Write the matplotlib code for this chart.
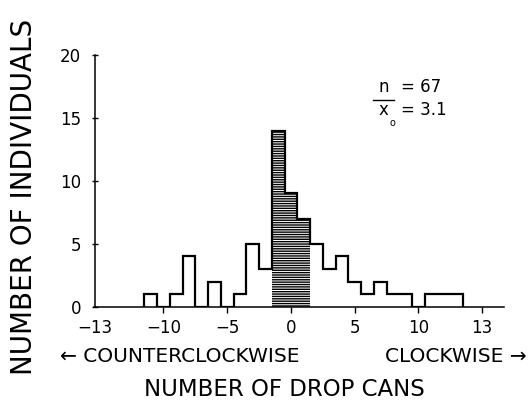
import matplotlib
matplotlib.use("Agg")
import matplotlib.pyplot as plt
import numpy as np

# ---- data ----
bin_centers = list(range(-11, 14))
counts = [1, 0, 1, 4, 0, 2, 0, 1, 5, 3,      # -11 .. -2
          14, 9, 7,                          # -1 .. 1 (shaded)
          5, 3, 4, 2, 1, 2, 1, 1, 0, 1, 1, 1]  # 2 .. 13
shaded_centers = [-1, 0, 1]
shaded_counts = [14, 9, 7]
xtick_pos = [-15.41, -10, -5, 0, 5, 10, 15]
xtick_labels = ["\u221213", "\u221210", "\u22125", "0", "5", "10", "13"]
ytick_pos = [0, 5, 10, 15, 20]
ytick_labels = ["0", "5", "10", "15", "20"]

plt.rcParams['font.family'] = ['DejaVu Sans']
plt.rcParams['hatch.linewidth'] = 1.0
plt.rcParams['hatch.color'] = 'black'

W, H = 531, 409
fig = plt.figure(figsize=(W / 100, H / 100), dpi=100)
ax = fig.add_axes([94.5 / W, 1 - 306.7 / H, (504 - 94.5) / W, (306.7 - 55) / H])

edges = np.arange(bin_centers[0] - 0.5, bin_centers[-1] + 1.0, 1.0)

ax.bar(shaded_centers, shaded_counts, width=1.0, facecolor='white',
       edgecolor='black', hatch='-------', linewidth=0, zorder=2)
ax.stairs(counts, edges, baseline=0, fill=False, color='black',
          linewidth=1.6, zorder=3)

ax.set_xlim(-15.41, 16.71)
ax.set_ylim(0, 20)

for s in ['top', 'right']:
    ax.spines[s].set_visible(False)
for s in ['left', 'bottom']:
    ax.spines[s].set_linewidth(1.1)

ax.set_xticks(xtick_pos)
ax.set_xticklabels(xtick_labels, fontsize=12)
ax.set_yticks(ytick_pos)
ax.set_yticklabels(ytick_labels, fontsize=12)
ax.tick_params(axis='x', direction='out', length=4.5, width=1.0, pad=4)
ax.tick_params(axis='y', direction='inout', length=5, width=1.0, pad=7)
ax.xaxis.get_major_ticks()[0].tick1line.set_visible(False)

# annotation
fig.text(378 / W, 1 - 92 / H, "n", fontsize=12, ha='left', va='baseline')
fig.text(401 / W, 1 - 92 / H, "= 67", fontsize=12, ha='left', va='baseline')
fig.text(379 / W, 1 - 115 / H, "x", fontsize=12, ha='left', va='baseline')
fig.text(389 / W, 1 - 126 / H, "o", fontsize=7, ha='left', va='baseline')
fig.text(401 / W, 1 - 115 / H, "= 3.1", fontsize=12, ha='left', va='baseline')
fig.add_artist(plt.Line2D([373 / W, 394 / W], [1 - 100 / H, 1 - 100 / H],
                          color='black', linewidth=1.0))

# axis titles
fig.text(24 / W, 1 - 197 / H, "NUMBER OF INDIVIDUALS", fontsize=20,
         rotation=90, ha='center', va='center')
fig.text(284 / W, 1 - 390 / H, "NUMBER OF DROP CANS", fontsize=16.5,
         ha='center', va='center')
fig.text(60 / W, 1 - 356 / H, "\u2190 COUNTERCLOCKWISE", fontsize=14.5,
         ha='left', va='center')
fig.text(527 / W, 1 - 356 / H, "CLOCKWISE \u2192", fontsize=14.5,
         ha='right', va='center')

fig.savefig("out.png", dpi=100)
